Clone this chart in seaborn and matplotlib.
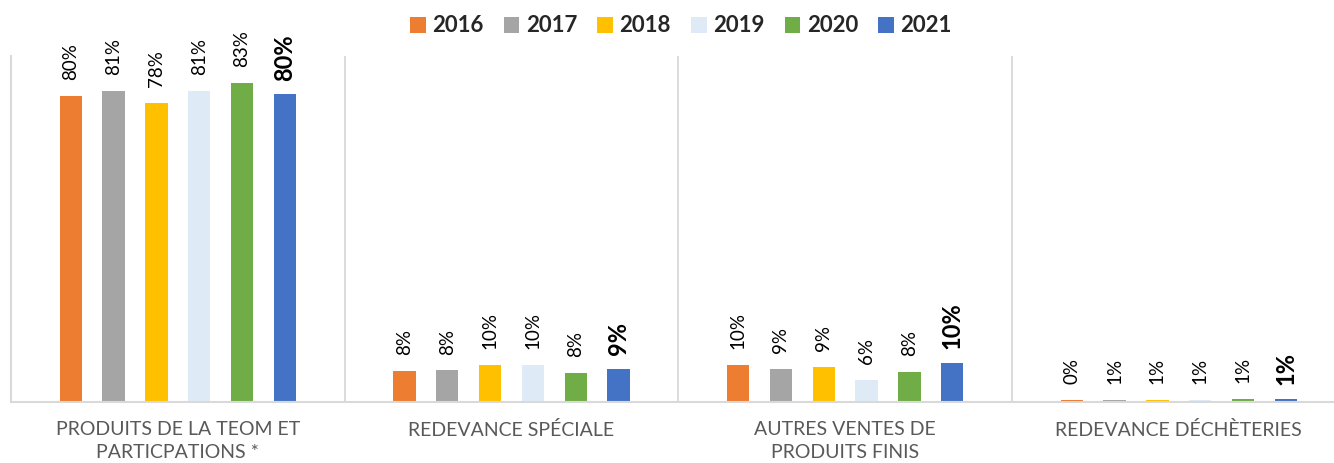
import numpy as np
import pandas as pd
import matplotlib
matplotlib.use("Agg")
import matplotlib.pyplot as plt
import seaborn as sns

# --- data ---
categories = ["PRODUITS DE LA TEOM ET\nPARTICPATIONS *", "REDEVANCE SPÉCIALE",
              "AUTRES VENTES DE\nPRODUITS FINIS", "REDEVANCE DÉCHÈTERIES"]
years = ["2016", "2017", "2018", "2019", "2020", "2021"]
v2016 = [79.7, 8.0, 9.6, 0.4]
v2017 = [81.0, 8.2, 8.6, 0.6]
v2018 = [77.8, 9.6, 9.1, 0.6]
v2019 = [81.0, 9.6, 5.6, 0.6]
v2020 = [83.0, 7.6, 7.7, 0.7]
v2021 = [80.0, 8.6, 10.1, 0.9]
colors = ["#ED7D31", "#A5A5A5", "#FFC000", "#DEEBF7", "#70AD47", "#4472C4"]

rows = []
for yr, vals in zip(years, [v2016, v2017, v2018, v2019, v2020, v2021]):
    for cat, v in zip(categories, vals):
        rows.append({"cat": cat, "year": yr, "val": v})
df = pd.DataFrame(rows)

sns.set_theme(style="white")
plt.rcParams["font.family"] = ["Lato", "DejaVu Sans"]

fig = plt.figure(figsize=(13.34, 4.63), dpi=100)
ax = fig.add_axes([11 / 1334, 1 - 402 / 463, (1334 - 11) / 1334, (402 - 56) / 463])

sns.barplot(data=df, x="cat", y="val", hue="year", palette=colors, saturation=1,
            width=0.77, gap=0.48, errorbar=None, linewidth=0, ax=ax)

# labels au-dessus des barres
for i, cont in enumerate(ax.containers):
    labs = [f"{v:.0f}%" for v in cont.datavalues]
    if i == len(ax.containers) - 1:
        ax.bar_label(cont, labels=labs, rotation=90, padding=10, fontsize=17,
                     fontweight="bold", color="black")
    else:
        ax.bar_label(cont, labels=labs, rotation=90, padding=11.5, fontsize=13.5,
                     color="black")

ax.set_ylim(0, 90)
ax.set_xlim(-0.5, 3.465)
ax.set_yticks([])
ax.set_xlabel("")
ax.set_ylabel("")
ax.tick_params(axis="x", length=0, pad=14, labelsize=14, labelcolor="#595959")
for lab in ax.get_xticklabels():
    lab.set_linespacing(1.4)

for s in ["top", "right"]:
    ax.spines[s].set_visible(False)
for s in ["left", "bottom"]:
    ax.spines[s].set_color("#d9d9d9")
    ax.spines[s].set_linewidth(1.5)
for x in [0.5, 1.5, 2.5]:
    ax.axvline(x, color="#d9d9d9", lw=1.3)

handles, labels = ax.get_legend_handles_labels()
ax.get_legend().remove()
fig.legend(handles, labels, loc="center", bbox_to_anchor=(681 / 1334, 1 - 26 / 463),
           ncol=6, frameon=False, prop={"weight": "bold", "size": 16},
           handlelength=0.7, handleheight=0.7, handletextpad=0.3, columnspacing=0.9)

fig.savefig("out.png", dpi=100)
